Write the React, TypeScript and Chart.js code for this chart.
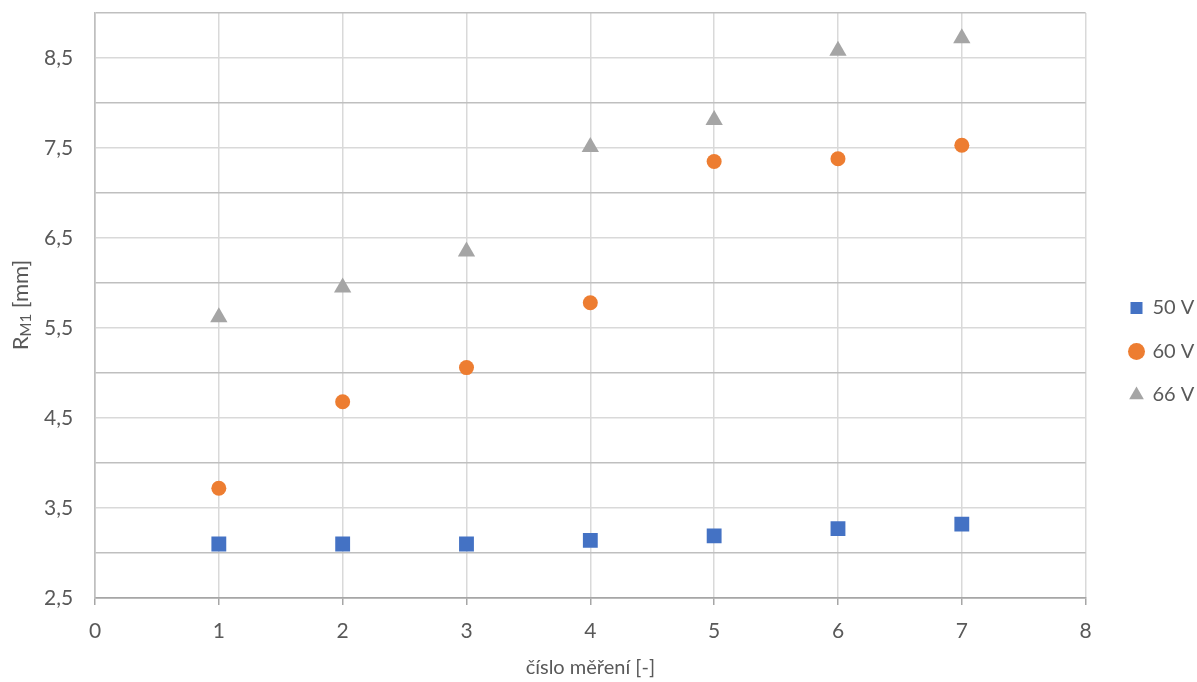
import React, { useEffect, useRef } from 'react';
import { Chart, registerables } from 'chart.js';

Chart.register(...registerables);

// ---- data ----
const xValues = [1, 2, 3, 4, 5, 6, 7];
const series50 = [3.10, 3.10, 3.10, 3.14, 3.19, 3.27, 3.32];
const series60 = [3.72, 4.68, 5.06, 5.78, 7.35, 7.38, 7.53];
const series66 = [5.62, 5.95, 6.35, 7.51, 7.81, 8.58, 8.72];
const seriesLabels = ['50 V', '60 V', '66 V'];
const seriesColors = ['#4472C4', '#ED7D31', '#A5A5A5'];
const seriesPointStyles = ['rect', 'circle', 'triangle'];
const seriesRadii = [10.5, 7.5, 10];
const xTitle = 'číslo měření [-]';
const yTitleMain = 'R';
const yTitleSub = 'M1';
const yTitleRest = ' [mm]';
const xMin = 0, xMax = 8, xStep = 1;
const yMin = 2.5, yMax = 9, yStep = 0.5;

const FONT = 'Lato, "Open Sans", sans-serif';
const TEXT = '#595959';

const yTitlePlugin = {
  id: 'yTitle',
  afterDraw(chart: any) {
    const ctx = chart.ctx;
    ctx.save();
    ctx.fillStyle = TEXT;
    const big = `22px ${FONT}`;
    const small = `15px ${FONT}`;
    ctx.font = big;
    const w1 = ctx.measureText(yTitleMain).width;
    const w3 = ctx.measureText(yTitleRest).width;
    ctx.font = small;
    const w2 = ctx.measureText(yTitleSub).width;
    const total = w1 + w2 + w3;
    ctx.translate(28, 305);
    ctx.rotate(-Math.PI / 2);
    ctx.textBaseline = 'alphabetic';
    ctx.textAlign = 'left';
    let x = -total / 2;
    ctx.font = big;
    ctx.fillText(yTitleMain, x, 0);
    x += w1;
    ctx.font = small;
    ctx.fillText(yTitleSub, x, 3);
    x += w2;
    ctx.font = big;
    ctx.fillText(yTitleRest, x, 0);
    ctx.restore();
  },
};

const legendShiftPlugin = {
  id: 'legendShift',
  afterLayout(chart: any) {
    const lg = chart.legend;
    if (!lg) return;
    const w = lg.width;
    lg.left = 1107;
    lg.right = lg.left + w;
    lg.top = 10;
    lg.bottom = 693;
    lg.height = lg.bottom - lg.top;
  },
};

export default function App() {
  const ref = useRef<HTMLCanvasElement | null>(null);

  useEffect(() => {
    if (!ref.current) return;
    const allSeries = [series50, series60, series66];
    const chart = new Chart(ref.current, {
      type: 'scatter',
      data: {
        datasets: allSeries.map((s, i) => ({
          label: seriesLabels[i],
          data: xValues.map((x, j) => ({ x, y: s[j] })),
          backgroundColor: seriesColors[i],
          borderColor: seriesColors[i],
          borderWidth: 0,
          pointStyle: seriesPointStyles[i] as any,
          pointRadius: seriesRadii[i],
          pointHoverRadius: seriesRadii[i],
          showLine: false,
        })),
      },
      options: {
        animation: false,
        responsive: true,
        maintainAspectRatio: false,
        layout: { padding: { top: 13, left: 44, right: 14, bottom: 0 } },
        plugins: {
          tooltip: { enabled: false },
          legend: {
            position: 'right',
            labels: {
              usePointStyle: true,
              boxHeight: 12,
              boxWidth: 12,
              padding: 23.5,
              color: TEXT,
              font: { family: FONT, size: 20 },
            },
          },
        },
        scales: {
          x: {
            type: 'linear',
            min: xMin,
            max: xMax,
            ticks: {
              stepSize: xStep,
              color: TEXT,
              font: { family: FONT, size: 21 },
              padding: 14,
              callback: (v: any) => String(v),
            },
            grid: {
              color: (c: any) => (c.index === 0 ? '#bfbfbf' : '#d9d9d9'),
              lineWidth: 1.5,
              drawTicks: true,
              tickLength: 7,
              tickColor: '#a6a6a6',
            },
            border: { display: true, color: '#a6a6a6', width: 1.5 },
            title: {
              display: true,
              text: xTitle,
              color: TEXT,
              font: { family: FONT, size: 20 },
              padding: { top: 0, bottom: 2 },
            },
            afterFit: (scale: any) => {
              scale.height = 84;
            },
          },
          y: {
            type: 'linear',
            min: yMin,
            max: yMax,
            ticks: {
              stepSize: yStep,
              color: TEXT,
              font: { family: FONT, size: 21 },
              padding: 0,
              crossAlign: 'far',
              callback: (v: any) => {
                const n = Number(v);
                const k = (n - yMin) % 1;
                if (Math.abs(k) < 1e-6 && n < yMax) return n.toFixed(1).replace('.', ',');
                return '';
              },
            },
            grid: {
              color: (c: any) => {
                const v = c.tick ? c.tick.value : 0;
                if (Math.abs(v - yMin) < 1e-6) return '#a6a6a6';
                return Math.abs(v - Math.round(v)) < 1e-6 ? '#bfbfbf' : '#d9d9d9';
              },
              lineWidth: 1.5,
              drawTicks: false,
            },
            border: { display: true, color: '#bfbfbf', width: 1.5 },
            afterFit: (scale: any) => {
              scale.width = 51;
            },
          },
        },
      },
      plugins: [yTitlePlugin, legendShiftPlugin],
    });
    return () => chart.destroy();
  }, []);

  return (
    <div style={{ position: 'fixed', left: 0, top: 0, width: 1197, height: 682, background: '#fff' }}>
      <canvas ref={ref} />
    </div>
  );
}
